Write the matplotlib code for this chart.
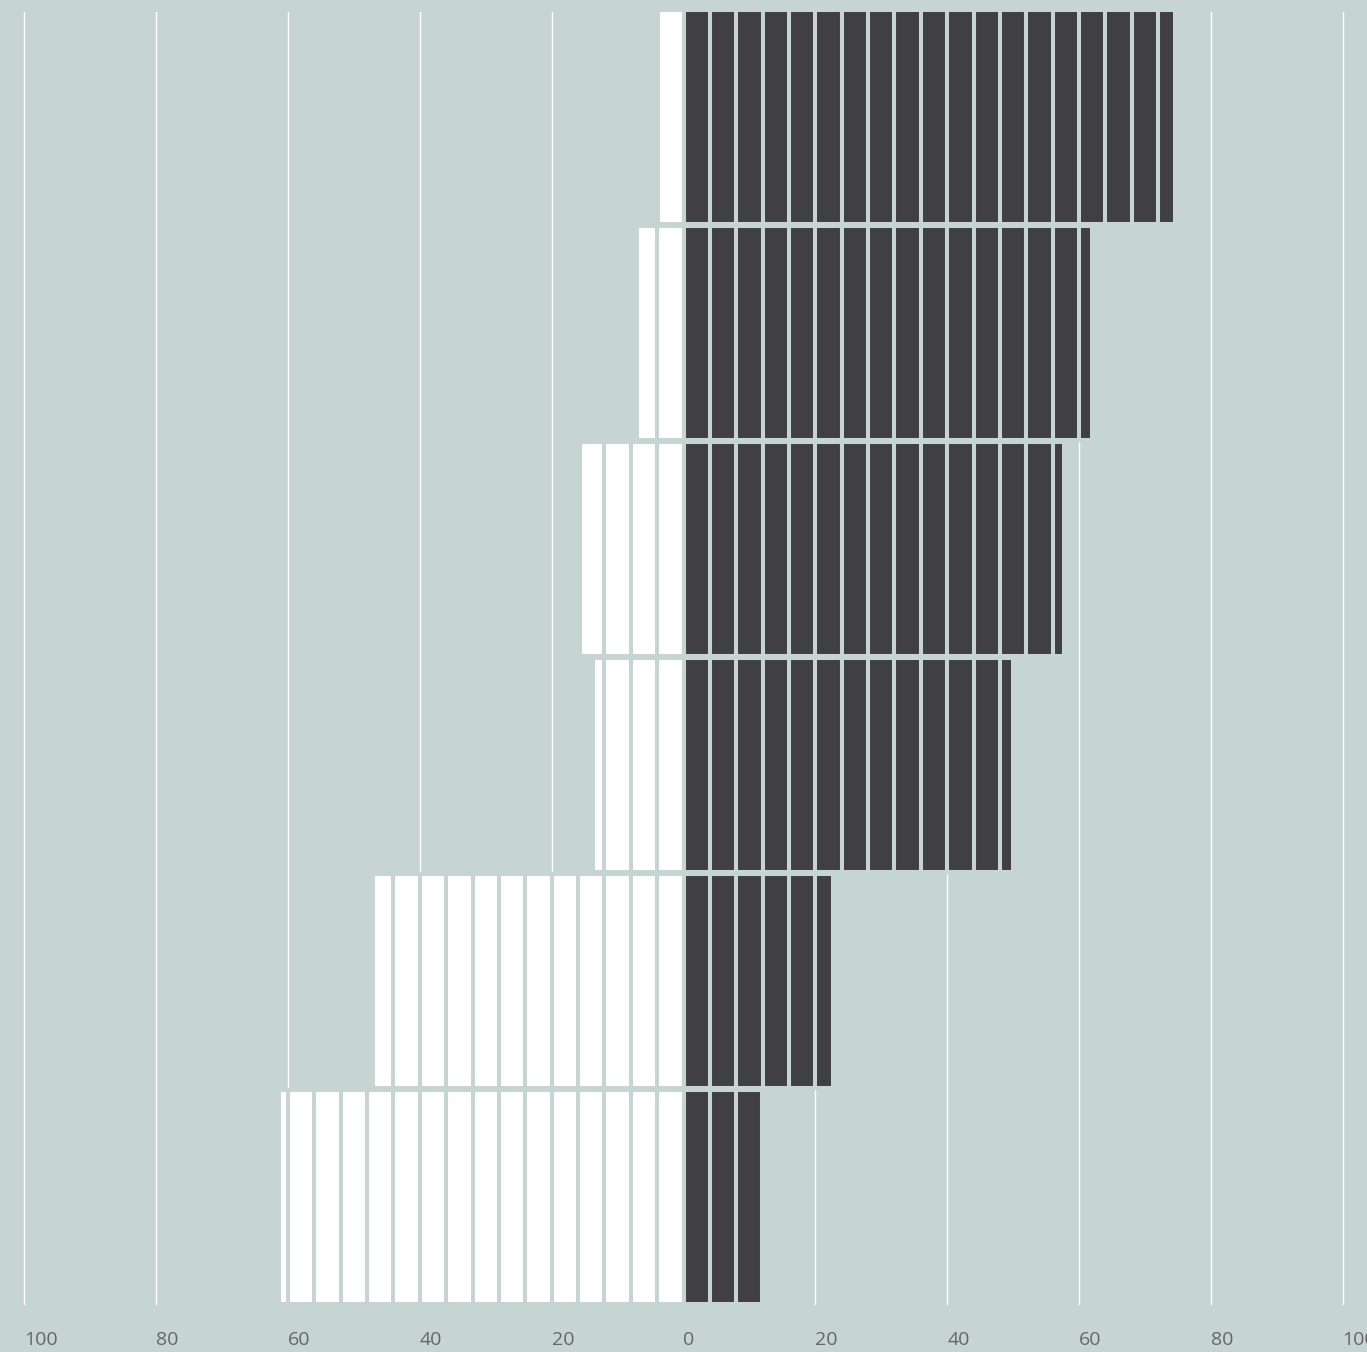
import numpy as np
import matplotlib.pyplot as plt

# shares per group, left side (white) and right side (dark)
groups = ['A', 'B', 'C', 'D', 'E', 'F']
left_vals = [3.9, 7.0, 15.7, 13.7, 47.1, 61.4]
right_vals = [74.6, 62.0, 57.7, 50.0, 22.7, 11.9]
tick_vals = [-100, -80, -60, -40, -20, 0, 20, 40, 60, 80, 100]
tick_labels = [str(abs(t)) for t in tick_vals]

bg = '#c6d5d2'
dark = '#404043'
light = '#ffffff'
step = 4  # each block is 4 units wide


def blocks(v):
    starts = np.arange(0, v, step)
    widths = np.minimum(step, v - starts)
    return starts, widths


fig = plt.figure(figsize=(13.67, 13.52), dpi=100, facecolor=bg)
ax = fig.add_axes([0, 1 - 1305 / 1352, 1, 1293 / 1352])
ax.set_facecolor(bg)

y = np.arange(len(groups))
for i in range(len(groups)):
    s, w = blocks(right_vals[i])
    ax.barh([y[i]] * len(s), w, left=s, height=0.99, color=dark,
            edgecolor=bg, linewidth=2.9, zorder=2)
    s, w = blocks(left_vals[i])
    ax.barh([y[i]] * len(s), -w, left=-s, height=0.99, color=light,
            edgecolor=bg, linewidth=2.9, zorder=2)

ax.set_xlim(-103.7, 103.7)
ax.set_ylim(len(groups) - 0.5, -0.486)
ax.set_xticks(tick_vals)
ax.set_xticklabels(tick_labels, fontfamily='Open Sans', fontsize=14, color='#666666')
for lab in ax.get_xticklabels():
    lab.set_ha('left')
ax.set_yticks([])
ax.tick_params(axis='x', length=0, pad=19)
ax.grid(axis='x', color='white', linewidth=1.0, zorder=0)
ax.set_axisbelow(True)
for sp in ax.spines.values():
    sp.set_visible(False)

fig.savefig('out.png', dpi=100, facecolor=bg)
